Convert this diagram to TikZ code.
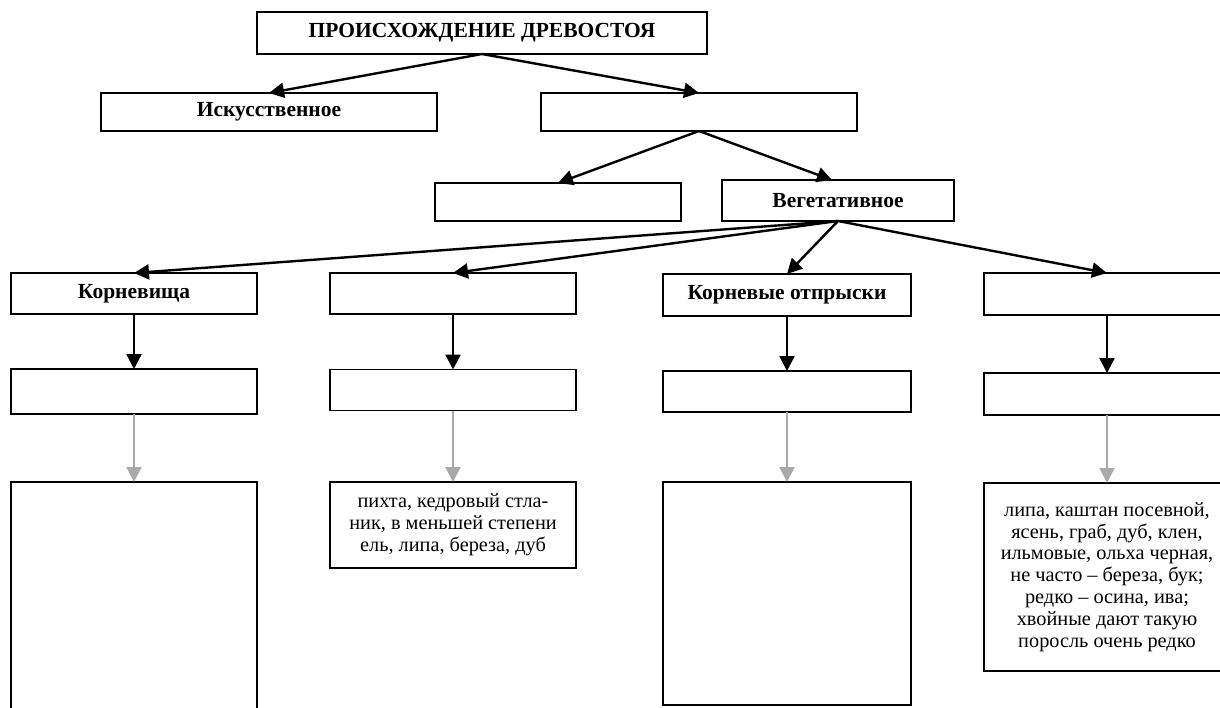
\documentclass[tikz,border=0pt]{standalone}
\usepackage{fontspec}
\setmainfont{Liberation Serif}
\usetikzlibrary{arrows.meta}
\begin{document}
\begin{tikzpicture}[x=1pt,y=-1pt,
  box/.style={draw=black,line width=1.6pt,inner sep=0pt,outer sep=0pt,rectangle,align=center},
  lbl/.style={font=\fontsize{21.5}{24}\selectfont\bfseries},
  txt/.style={font=\fontsize{20.3}{21.8}\selectfont},
  arr/.style={line width=2.4pt,-{Triangle[length=15pt,width=15pt]}},
  garr/.style={draw={rgb,255:red,170;green,170;blue,170},line width=2pt,-{Triangle[length=15pt,width=15pt]}}]
\clip (0,0) rectangle (1220,707);
\fill[white] (0,0) rectangle (1220,707);
% level 0
\node[box,lbl,minimum width=450pt,minimum height=42pt] (T) at (482,33) {ПРОИСХОЖДЕНИЕ ДРЕВОСТОЯ};
% level 1
\node[box,lbl,minimum width=336pt,minimum height=38pt] (A) at (269,112) {Искусственное};
\node[box,minimum width=316pt,minimum height=38pt] (B) at (699,112) {};
% level 2
\node[box,minimum width=246pt,minimum height=38pt] (C) at (558,202) {};
\node[box,lbl,minimum width=232pt,minimum height=41pt] (V) at (838,200.5) {Вегетативное};
% level 3
\node[box,lbl,minimum width=246pt,minimum height=41pt] (R1) at (134,293.5) {Корневища};
\node[box,minimum width=246pt,minimum height=41pt] (R2) at (453,293.5) {};
\node[box,lbl,minimum width=248pt,minimum height=42pt] (R3) at (787,295) {Корневые отпрыски};
\node[box,minimum width=246pt,minimum height=42pt] (R4) at (1107,294) {};
% level 4
\node[box,minimum width=246pt,minimum height=45pt] (S1) at (134,391.5) {};
\node[box,minimum width=246pt,minimum height=41pt] (S2) at (453,390) {};
\node[box,minimum width=248pt,minimum height=41pt] (S3) at (787,391.5) {};
\node[box,minimum width=246pt,minimum height=42pt] (S4) at (1107,394) {};
% level 5
\node[box,minimum width=246pt,minimum height=260pt] (U1) at (134,612) {};
\node[box,txt,minimum width=246pt,minimum height=86pt] (U2) at (453,525) {пихта, кедровый стла-\\ник, в меньшей степени\\ель, липа, береза, дуб};
\node[box,minimum width=248pt,minimum height=223pt] (U3) at (787,593.5) {};
\node[box,txt,minimum width=246pt,minimum height=188pt] (U4) at (1107,577) {липа, каштан посевной,\\ясень, граб, дуб, клен,\\ильмовые, ольха черная,\\не часто -- береза, бук;\\редко -- осина, ива;\\хвойные дают такую\\поросль очень редко};
% connectors
\draw[arr] (T.south) -- (A.north);
\draw[arr] (T.south) -- (B.north);
\draw[arr] (B.south) -- (C.north);
\draw[arr] (B.south) -- ([xshift=-6pt]V.north);
\draw[arr] (V.south) -- (R1.north);
\draw[arr] (V.south) -- (R2.north);
\draw[arr] (V.south) -- (R3.north);
\draw[arr] (V.south) -- (R4.north);
\draw[arr] (R1.south) -- (S1.north);
\draw[arr] (R2.south) -- (S2.north);
\draw[arr] (R3.south) -- (S3.north);
\draw[arr] (R4.south) -- (S4.north);
\draw[garr] (S1.south) -- (U1.north);
\draw[garr] (S2.south) -- (U2.north);
\draw[garr] (S3.south) -- (U3.north);
\draw[garr] (S4.south) -- (U4.north);
\end{tikzpicture}
\end{document}
